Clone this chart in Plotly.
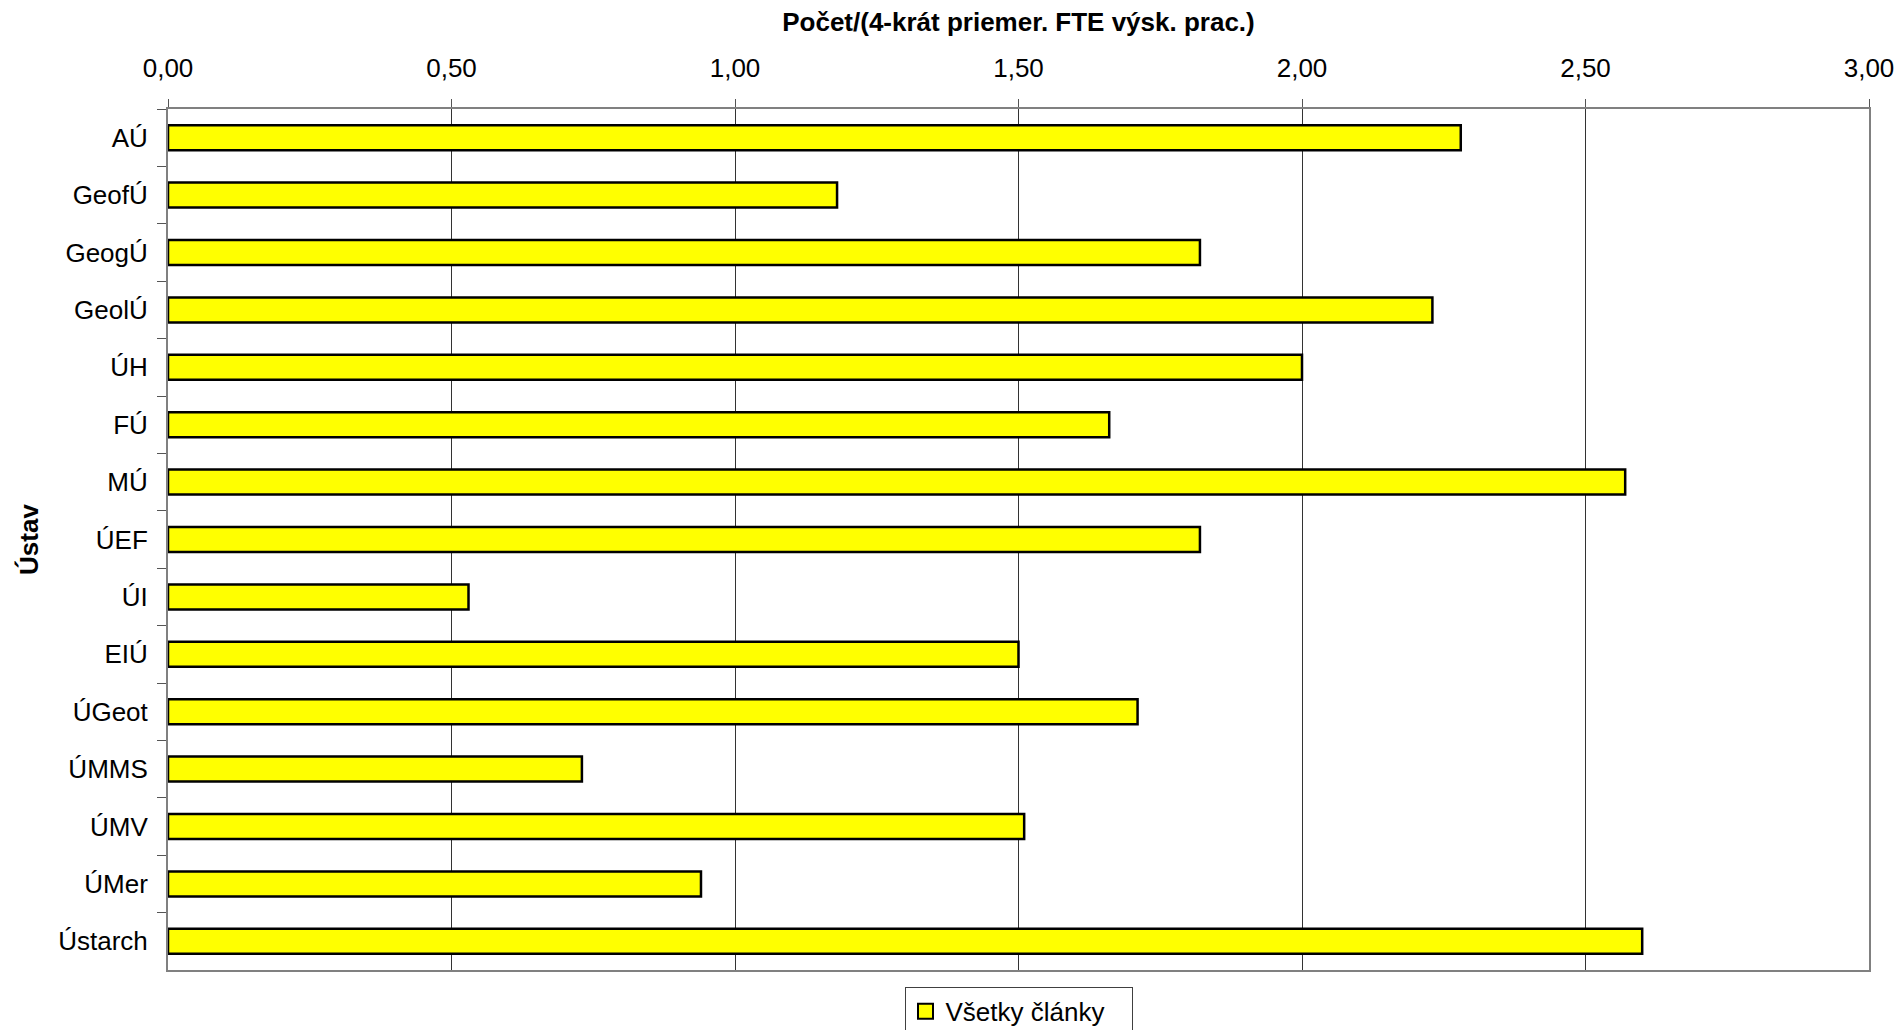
import plotly.graph_objects as go

# institutes, top to bottom as in the chart
institutes = ["AÚ", "GeofÚ", "GeogÚ", "GeolÚ", "ÚH", "FÚ", "MÚ", "ÚEF",
              "ÚI", "EIÚ", "ÚGeot", "ÚMMS", "ÚMV", "ÚMer", "Ústarch"]
all_articles = [2.28, 1.18, 1.82, 2.23, 2.00, 1.66, 2.57, 1.82,
                0.53, 1.50, 1.71, 0.73, 1.51, 0.94, 2.60]

x_ticks = [0, 0.5, 1.0, 1.5, 2.0, 2.5, 3.0]
series_name = "Všetky články"

FONT = "Liberation Sans, Arial, sans-serif"
YELLOW = "#FFFF00"

fig = go.Figure()
fig.add_trace(go.Bar(
    x=all_articles,
    y=institutes,
    orientation="h",
    name=series_name,
    showlegend=False,
    marker=dict(color=YELLOW, line=dict(color="black", width=2.5)),
))
# legend entry only, with the bigger square swatch of the original
fig.add_trace(go.Scatter(
    x=[None], y=[None],
    mode="markers",
    name=series_name + "\u00a0\u00a0\u00a0",
    marker=dict(symbol="square", size=15, color=YELLOW,
                line=dict(color="black", width=2)),
))

fig.update_layout(
    width=1899,
    height=1030,
    margin=dict(l=168, r=30, t=109, b=60),
    paper_bgcolor="white",
    plot_bgcolor="white",
    font=dict(family=FONT, size=26, color="black"),
    separators=", ",
    bargap=0.565,
    showlegend=True,
    # legend sits low and runs off the bottom edge, like the original
    legend=dict(
        orientation="h",
        xref="paper", x=0.5, xanchor="center",
        yref="container", y=0.042, yanchor="top",
        bordercolor="#404040",
        borderwidth=1,
        itemwidth=30,
        font=dict(size=26),
    ),
)

fig.update_xaxes(
    side="top",
    range=[0, 3],
    tickvals=x_ticks,
    tickformat=".2f",
    ticks="outside",
    ticklen=8,
    tickcolor="#555555",
    ticklabelstandoff=12,
    showgrid=True,
    gridcolor="#333333",
    gridwidth=1,
    showline=True,
    linecolor="#808080",
    linewidth=2,
    mirror=True,
    zeroline=False,
    automargin=False,
    title=dict(text="<b>Počet/(4-krát priemer. FTE výsk. prac.)</b>",
               font=dict(size=26), standoff=13),
)
fig.update_yaxes(
    categoryorder="array",
    categoryarray=institutes,
    autorange="reversed",
    ticks="outside",
    ticklen=9,
    tickcolor="#555555",
    tickson="boundaries",
    ticklabelstandoff=13,
    showgrid=False,
    showline=True,
    linecolor="#808080",
    linewidth=2,
    mirror=True,
    automargin=False,
    title=dict(text="<b>Ústav</b>", font=dict(size=26), standoff=12),
)

# drop the default 8px page margin so the figure fills the window exactly
fig.write_html("out.html",
               config={"displayModeBar": False},
               post_script="document.body.style.margin='0';")
